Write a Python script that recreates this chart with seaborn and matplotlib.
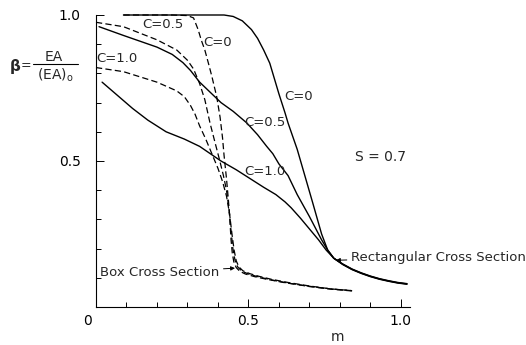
import matplotlib
matplotlib.use("Agg")
import matplotlib.pyplot as plt
import matplotlib.transforms as mtransforms
import seaborn as sns
import pandas as pd
from matplotlib.ticker import MultipleLocator
from matplotlib.lines import Line2D

# ---- data ----
# Rectangular cross section (solid)
rect_c0_m = [0.09, 0.30, 0.42, 0.45, 0.48, 0.51, 0.53, 0.55, 0.57, 0.58, 0.60, 0.62, 0.63, 0.66, 0.685, 0.71, 0.74, 0.76,
             0.78, 0.81, 0.84, 0.87, 0.90, 0.93, 0.96, 0.99, 1.02]
rect_c0_b = [1.00, 1.00, 1.00, 0.995, 0.98, 0.95, 0.92, 0.88, 0.835, 0.80, 0.73, 0.665, 0.63, 0.54, 0.45, 0.36, 0.25, 0.195,
             0.167, 0.145, 0.128, 0.115, 0.104, 0.095, 0.088, 0.082, 0.078]
rect_c05_m = [0.01, 0.09, 0.20, 0.25, 0.285, 0.31, 0.34, 0.37, 0.41, 0.45, 0.495, 0.53, 0.56, 0.58, 0.60, 0.63, 0.66, 0.70,
              0.72, 0.74, 0.76, 0.78, 0.81, 0.84, 0.87, 0.90, 0.93, 0.96, 0.99, 1.02]
rect_c05_b = [0.96, 0.93, 0.89, 0.865, 0.837, 0.81, 0.77, 0.74, 0.70, 0.67, 0.63, 0.59, 0.55, 0.525, 0.49, 0.45, 0.385, 0.31,
              0.27, 0.23, 0.195, 0.167, 0.146, 0.129, 0.116, 0.105, 0.096, 0.089, 0.083, 0.079]
rect_c10_m = [0.02, 0.07, 0.12, 0.17, 0.23, 0.29, 0.34, 0.41, 0.46, 0.505, 0.55, 0.59, 0.62, 0.64, 0.67, 0.69, 0.71, 0.73,
              0.755, 0.78, 0.81, 0.84, 0.87, 0.90, 0.93, 0.96, 0.99, 1.02]
rect_c10_b = [0.77, 0.725, 0.68, 0.64, 0.60, 0.575, 0.55, 0.50, 0.47, 0.44, 0.41, 0.385, 0.36, 0.34, 0.305, 0.28, 0.255, 0.23,
              0.195, 0.167, 0.147, 0.130, 0.117, 0.106, 0.097, 0.090, 0.084, 0.080]

# Box cross section (dashed)
box_c0_m = [0.09, 0.25, 0.30, 0.32, 0.335, 0.345, 0.357, 0.37, 0.38, 0.396, 0.407, 0.415, 0.42, 0.428, 0.434, 0.439, 0.443,
            0.447, 0.452, 0.46, 0.472, 0.49, 0.52, 0.56, 0.62, 0.70, 0.77, 0.84]
box_c0_b = [1.00, 1.00, 0.998, 0.99, 0.95, 0.915, 0.88, 0.83, 0.79, 0.72, 0.65, 0.58, 0.52, 0.44, 0.37, 0.30, 0.23,
            0.185, 0.155, 0.135, 0.122, 0.113, 0.104, 0.095, 0.083, 0.071, 0.062, 0.056]
box_c05_m = [0.00, 0.09, 0.20, 0.265, 0.30, 0.32, 0.34, 0.357, 0.374, 0.39, 0.405, 0.418, 0.428, 0.437, 0.443, 0.449, 0.456,
             0.465, 0.478, 0.50, 0.53, 0.57, 0.63, 0.70, 0.77, 0.84]
box_c05_b = [0.975, 0.96, 0.915, 0.88, 0.845, 0.815, 0.765, 0.71, 0.63, 0.565, 0.505, 0.45, 0.40, 0.33, 0.26, 0.20, 0.16,
             0.137, 0.123, 0.113, 0.104, 0.094, 0.082, 0.070, 0.061, 0.055]
box_c10_m = [0.00, 0.09, 0.20, 0.265, 0.29, 0.31, 0.325, 0.34, 0.36, 0.38, 0.40, 0.415, 0.428, 0.438, 0.446, 0.453, 0.46,
             0.469, 0.482, 0.505, 0.535, 0.575, 0.63, 0.70, 0.77, 0.84]
box_c10_b = [0.82, 0.806, 0.77, 0.74, 0.72, 0.69, 0.66, 0.62, 0.575, 0.525, 0.475, 0.43, 0.38, 0.32, 0.25, 0.195, 0.158,
             0.137, 0.124, 0.114, 0.105, 0.095, 0.084, 0.072, 0.062, 0.056]

x_ticks = [0, 0.5, 1.0]
x_tick_labels = ["0", "0.5", "1.0"]
y_ticks = [0.5, 1.0]
y_tick_labels = ["0.5", "1.0"]

# ---- build long table ----
curves = [
    ("rect C=0", "Rectangular", rect_c0_m, rect_c0_b),
    ("rect C=0.5", "Rectangular", rect_c05_m, rect_c05_b),
    ("rect C=1.0", "Rectangular", rect_c10_m, rect_c10_b),
    ("box C=0", "Box", box_c0_m, box_c0_b),
    ("box C=0.5", "Box", box_c05_m, box_c05_b),
    ("box C=1.0", "Box", box_c10_m, box_c10_b),
]
rows = []
for name, sec, ms, bs in curves:
    for i, (mm, bb) in enumerate(zip(ms, bs)):
        rows.append({"curve": name, "section": sec, "m": mm, "beta": bb, "order": i})
df = pd.DataFrame(rows)

sns.set_theme(style="white")
plt.rcParams["font.family"] = ["DejaVu Sans"]
plt.rcParams["mathtext.fontset"] = "dejavusans"

fig = plt.figure(figsize=(5.26, 3.45), dpi=100)
ax = fig.add_axes([96 / 526, 38 / 345, 314 / 526, 292 / 345])

for name, sec, ms, bs in curves:
    sub = df[df["curve"] == name].sort_values("order")
    n0 = len(ax.lines)
    sns.lineplot(data=sub, x="m", y="beta", ax=ax, sort=False, estimator=None,
                 color="black", linewidth=1.0 if sec == "Rectangular" else 0.9, legend=False)
    ln = ax.lines[n0]
    ln.set_clip_on(False)
    ln.set_solid_joinstyle("round")
    if sec == "Box":
        ln.set_dashes((5, 2.6))

ax.set_xlim(0, 1.03)
ax.set_ylim(0, 1.0)
ax.spines["top"].set_visible(False)
ax.spines["right"].set_visible(False)
for s in ("left", "bottom"):
    ax.spines[s].set_color("black")
    ax.spines[s].set_linewidth(0.8)

ax.set_xticks(x_ticks, labels=x_tick_labels)
ax.set_yticks(y_ticks, labels=y_tick_labels)
ax.xaxis.set_minor_locator(MultipleLocator(0.1))
ax.yaxis.set_minor_locator(MultipleLocator(0.1))
ax.tick_params(axis="both", which="both", direction="in", color="black", width=0.7,
               bottom=True, left=True, top=False, right=False)
ax.tick_params(axis="both", which="major", length=6, labelsize=10, labelcolor="black")
ax.tick_params(axis="both", which="minor", length=3.5)
ax.tick_params(axis="x", which="major", pad=5)
ax.tick_params(axis="y", which="major", pad=11)
zero_lbl = ax.get_xticklabels()[0]
zero_lbl.set_horizontalalignment("right")
zero_lbl.set_transform(zero_lbl.get_transform() +
                       mtransforms.ScaledTranslation(-4 / 100, 0, fig.dpi_scale_trans))
ax.set_xlabel("")
ax.set_ylabel("")

# curve labels
fs = 9.5
ax.text(0.218, 0.966, "C=0.5", ha="center", va="center", fontsize=fs)
ax.text(0.40, 0.905, "C=0", ha="center", va="center", fontsize=fs)
ax.text(0.068, 0.85, "C=1.0", ha="center", va="center", fontsize=fs)
ax.text(0.665, 0.72, "C=0", ha="center", va="center", fontsize=fs)
ax.text(0.555, 0.633, "C=0.5", ha="center", va="center", fontsize=fs)
ax.text(0.555, 0.463, "C=1.0", ha="center", va="center", fontsize=fs)
ax.text(0.85, 0.514, "S = 0.7", ha="left", va="center", fontsize=10)

ax.annotate("Box Cross Section", xy=(0.456, 0.133), xytext=(0.403, 0.119),
            ha="right", va="center", fontsize=9.5, annotation_clip=False,
            arrowprops=dict(arrowstyle="-|>", color="black", lw=0.7,
                            mutation_scale=6, shrinkA=1, shrinkB=0))
ax.annotate("Rectangular Cross Section", xy=(0.787, 0.16), xytext=(0.838, 0.17),
            ha="left", va="center", fontsize=9.5, annotation_clip=False,
            arrowprops=dict(arrowstyle="-|>", color="black", lw=0.7,
                            mutation_scale=6, shrinkA=1, shrinkB=0))

# axis titles
fig.text(338 / 526, 1 - 337 / 345, "m", ha="center", va="center", fontsize=10)
fig.text(15 / 526, 1 - 66 / 345, "β", ha="center", va="center", fontsize=11, fontweight="bold")
fig.text(26 / 526, 1 - 66 / 345, "=", ha="center", va="center", fontsize=9)
fig.text(54 / 526, 1 - 57 / 345, "EA", ha="center", va="center", fontsize=10)
fig.text(55 / 526, 1 - 75 / 345, "(EA)$_\\mathrm{o}$", ha="center", va="center", fontsize=10)
fig.add_artist(Line2D([33 / 526, 78 / 526], [1 - 64 / 345, 1 - 64 / 345], color="black", lw=0.8,
                      transform=fig.transFigure))

fig.savefig("out.png", dpi=100)
